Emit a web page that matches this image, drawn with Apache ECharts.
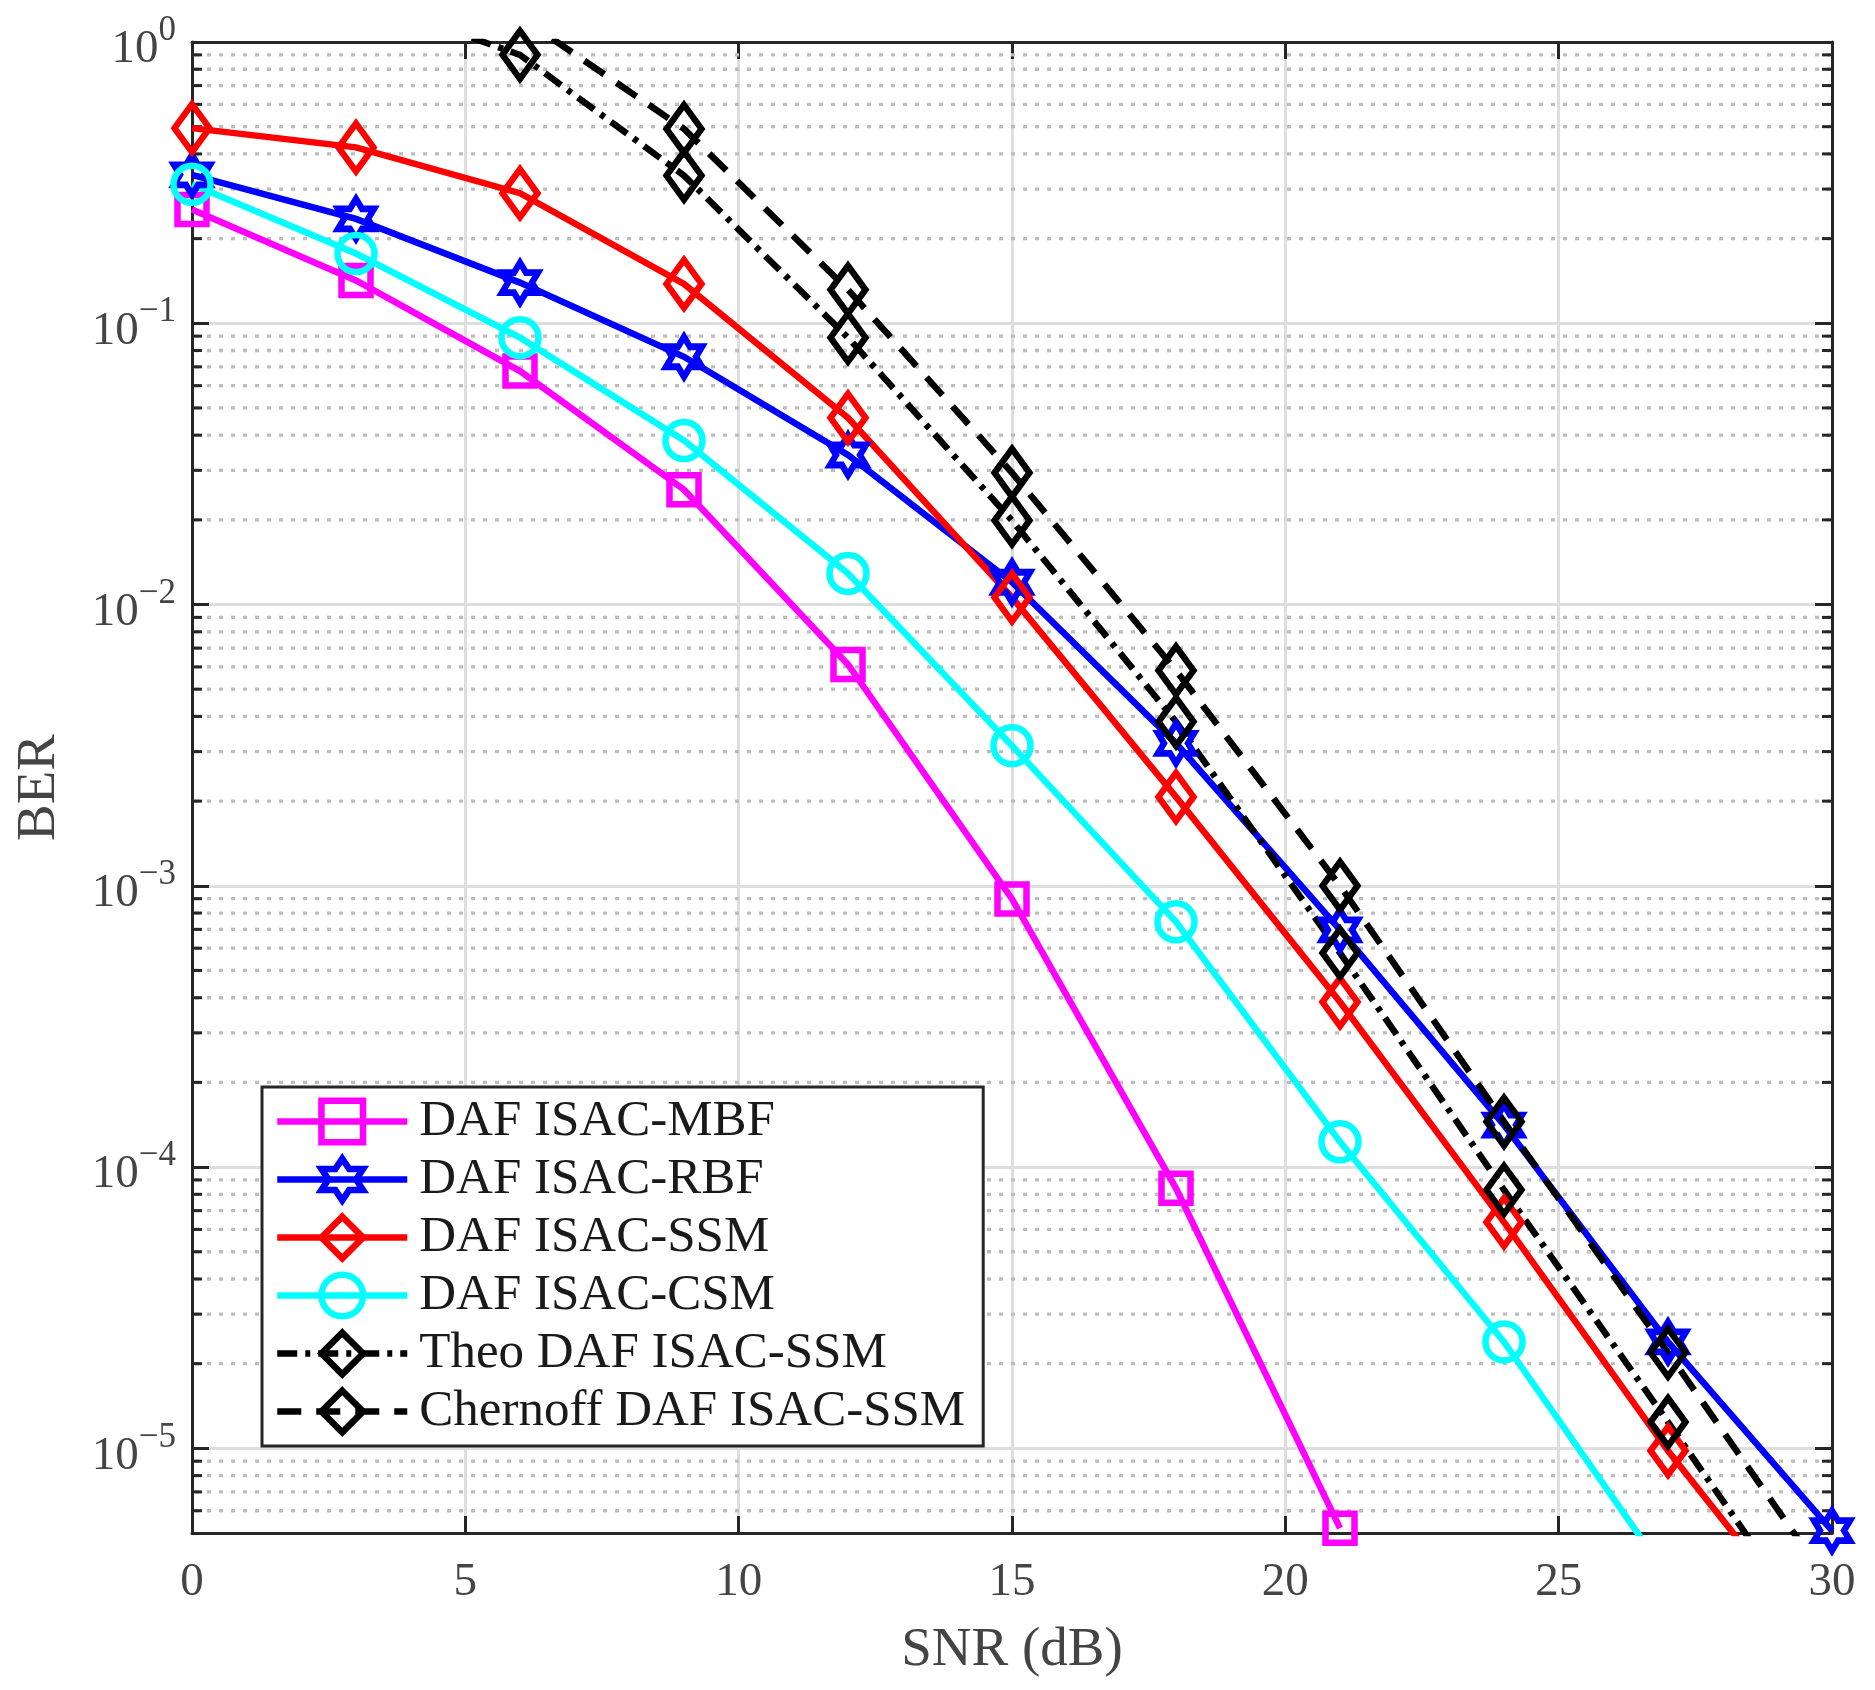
<!DOCTYPE html>
<html>
<head>
<meta charset="utf-8">
<script src="https://cdn.jsdelivr.net/npm/echarts@6/dist/echarts.min.js"></script>
<style>
html,body{margin:0;padding:0;background:#fff;}
#chart{width:1875px;height:1690px;}
</style>
</head>
<body>
<div id="chart"></div>
<script>
// ---- data ----
const snrMBF = [0, 3, 6, 9, 12, 15, 18, 21];
const berMBF = [0.254, 0.142, 0.0676, 0.0256, 0.00612, 8.98e-4, 8.4e-5, 5.2e-6];

const snrRBF = [0, 3, 6, 9, 12, 15, 18, 21, 24, 27, 30];
const berRBF = [0.337, 0.235, 0.1395, 0.076, 0.034, 0.0120, 3.21e-3, 6.97e-4, 1.41e-4, 2.39e-5, 5.1e-6];

const snrSSM = [0, 3, 6, 9, 12, 15, 18, 21, 24, 27, 30];
const berSSM = [0.494, 0.422, 0.29, 0.138, 0.0461, 0.0106, 2.07e-3, 3.86e-4, 6.37e-5, 9.8e-6, 1.8e-6];

const snrCSM = [0, 3, 6, 9, 12, 15, 18, 21, 24, 27];
const berCSM = [0.312, 0.177, 0.0889, 0.0383, 0.0129, 3.15e-3, 7.45e-4, 1.23e-4, 2.39e-5, 3.5e-6];

const snrTheo = [3, 6, 9, 12, 15, 18, 21, 24, 27, 30];
const berTheo = [1.45, 0.90, 0.335, 0.0889, 0.0199, 3.83e-3, 5.77e-4, 8.3e-5, 1.24e-5, 1.8e-6];

const snrChernoff = [6, 9, 12, 15, 18, 21, 24, 27, 30];
const berChernoff = [1.23, 0.491, 0.1316, 0.0294, 5.83e-3, 1.0e-3, 1.45e-4, 2.19e-5, 3.2e-6];

const seriesNames = ['DAF ISAC-MBF', 'DAF ISAC-RBF', 'DAF ISAC-SSM', 'DAF ISAC-CSM', 'Theo DAF ISAC-SSM', 'Chernoff DAF ISAC-SSM'];

// axis settings
const xMin = 0, xMax = 30, xStep = 5;
const yMin = 5e-6, yMax = 1;
const minorDecades = [-6, -5, -4, -3, -2, -1];
const minorMultipliers = [2, 3, 4, 5, 6, 7, 8, 9];

// ---- helpers ----
const FONT = 'Liberation Serif';
const LABEL_COLOR = '#444444';
const AXIS_COLOR = '#262626';
const GRID_COLOR = '#dedede';
const LW = 6.5;

function pairs(xs, ys) { return xs.map((x, i) => [x, ys[i]]); }

const minorValues = [];
minorDecades.forEach(d => minorMultipliers.forEach(m => {
  const v = m * Math.pow(10, d);
  if (v > yMin * 1.0001 && v < yMax) minorValues.push([xMin, v]);
}));

const hexagram = 'path://M100,0 L128.9,50 L186.6,50 L157.7,100 L186.6,150 L128.9,150 L100,200 L71.1,150 L13.4,150 L42.3,100 L13.4,50 L71.1,50 Z';

function lineSeries(name, data, color, symbol, size, dash) {
  return {
    name: name,
    type: 'line',
    data: data,
    xAxisIndex: 0,
    yAxisIndex: 0,
    symbol: symbol,
    symbolSize: size,
    showAllSymbol: true,
    clip: true,
    z: 5,
    lineStyle: { color: color, width: LW, type: dash || 'solid', cap: 'butt', join: 'miter' },
    itemStyle: { color: 'rgba(0,0,0,0)', borderColor: color, borderWidth: LW },
    emphasis: { disabled: true },
    silent: true
  };
}

const chart = echarts.init(document.getElementById('chart'), null, { renderer: 'canvas' });

const option = {
  animation: false,
  backgroundColor: '#ffffff',
  grid: { left: 192, right: 43, top: 42, bottom: 157, containLabel: false, outerBoundsMode: 'none' },
  legend: {
    orient: 'vertical',
    left: 262,
    top: 1087,
    data: seriesNames,
    itemWidth: 130,
    itemHeight: 52,
    itemGap: 7,
    padding: [9, 18, 9, 12],
    backgroundColor: '#ffffff',
    borderColor: AXIS_COLOR,
    borderWidth: 3,
    borderRadius: 0,
    selectedMode: false,
    textStyle: { fontFamily: FONT, fontSize: 51, color: '#1a1a1a', padding: [0, 0, 0, 7] },
    itemStyle: { color: 'rgba(0,0,0,0)', borderColor: 'inherit', borderWidth: LW },
    lineStyle: { width: LW }
  },
  xAxis: [
    {
      type: 'value', position: 'bottom', min: xMin, max: xMax, interval: xStep,
      name: 'SNR (dB)', nameLocation: 'middle', nameGap: 90,
      nameTextStyle: { fontFamily: FONT, fontSize: 55, color: LABEL_COLOR },
      axisLine: { show: true, onZero: false, lineStyle: { color: AXIS_COLOR, width: 3 } },
      axisTick: { show: true, inside: true, length: 17, lineStyle: { color: AXIS_COLOR, width: 3 } },
      axisLabel: { show: true, margin: 26, fontFamily: FONT, fontSize: 47, color: LABEL_COLOR },
      splitLine: { show: true, lineStyle: { color: GRID_COLOR, width: 3 } }
    },
    {
      type: 'value', position: 'top', min: xMin, max: xMax, interval: xStep,
      axisLine: { show: true, onZero: false, lineStyle: { color: AXIS_COLOR, width: 3 } },
      axisTick: { show: true, inside: true, length: 17, lineStyle: { color: AXIS_COLOR, width: 3 } },
      axisLabel: { show: false },
      splitLine: { show: false }
    }
  ],
  yAxis: [
    {
      type: 'log', logBase: 10, position: 'left', min: yMin, max: yMax,
      name: 'BER', nameLocation: 'middle', nameGap: 125, nameRotate: 90,
      nameTextStyle: { fontFamily: FONT, fontSize: 55, color: LABEL_COLOR },
      axisLine: { show: true, onZero: false, lineStyle: { color: AXIS_COLOR, width: 3 } },
      axisTick: { show: true, inside: true, length: 17, lineStyle: { color: AXIS_COLOR, width: 3 } },
      axisLabel: {
        show: true, margin: 16, showMinLabel: true, showMaxLabel: true,
        formatter: function (v) {
          const l = Math.log10(v);
          const e = Math.round(l);
          if (Math.abs(l - e) > 1e-6) return '';
          const sup = e < 0 ? '\u2212' + (-e) : String(e);
          return '{b|10}{s|' + sup + '}';
        },
        rich: {
          b: { fontFamily: FONT, fontSize: 47, color: LABEL_COLOR, padding: [16, 0, 0, 0] },
          s: { fontFamily: FONT, fontSize: 35, color: LABEL_COLOR, padding: [0, 0, 22, 0] }
        }
      },
      splitLine: { show: true, lineStyle: { color: GRID_COLOR, width: 3 } }
    },
    {
      type: 'log', logBase: 10, position: 'right', min: yMin, max: yMax,
      axisLine: { show: true, onZero: false, lineStyle: { color: AXIS_COLOR, width: 3 } },
      axisTick: { show: true, inside: true, length: 17, lineStyle: { color: AXIS_COLOR, width: 3 } },
      axisLabel: { show: false },
      splitLine: { show: false }
    }
  ],
  series: [
    {
      name: 'minorGrid',
      type: 'custom',
      xAxisIndex: 0,
      yAxisIndex: 0,
      data: minorValues,
      silent: true,
      z: 1,
      renderItem: function (params, api) {
        const cs = params.coordSys;
        const y = api.coord([api.value(0), api.value(1)])[1];
        return {
          type: 'group',
          children: [
            { type: 'line', shape: { x1: cs.x + 3, y1: y, x2: cs.x + cs.width - 2, y2: y },
              style: { stroke: '#bdbdbd', lineWidth: 3.3, lineDash: [4, 8] } },
            { type: 'line', shape: { x1: cs.x, y1: y, x2: cs.x + 10, y2: y },
              style: { stroke: AXIS_COLOR, lineWidth: 3 } },
            { type: 'line', shape: { x1: cs.x + cs.width - 10, y1: y, x2: cs.x + cs.width, y2: y },
              style: { stroke: AXIS_COLOR, lineWidth: 3 } }
          ]
        };
      }
    },
    lineSeries(seriesNames[0], pairs(snrMBF, berMBF), '#ff00ff', 'rect', 29),
    lineSeries(seriesNames[1], pairs(snrRBF, berRBF), '#0000ff', hexagram, [36, 40]),
    lineSeries(seriesNames[2], pairs(snrSSM, berSSM), '#ff0000', 'diamond', [35, 48]),
    lineSeries(seriesNames[3], pairs(snrCSM, berCSM), '#00ffff', 'circle', 37),
    lineSeries(seriesNames[4], pairs(snrTheo, berTheo), '#000000', 'diamond', [35, 48], [20, 8, 5, 8]),
    lineSeries(seriesNames[5], pairs(snrChernoff, berChernoff), '#000000', 'diamond', [35, 48], [24, 15])
  ]
};

chart.setOption(option);
</script>
</body>
</html>
